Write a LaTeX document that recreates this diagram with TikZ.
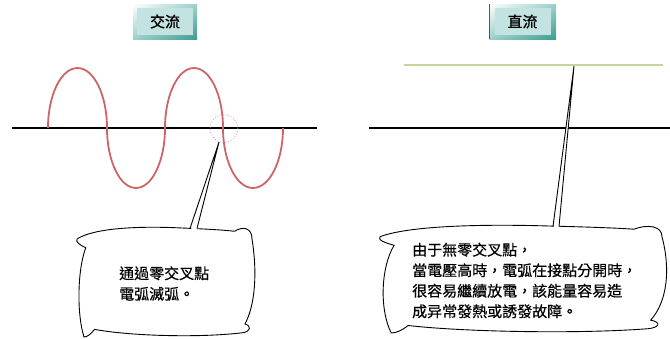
\documentclass[tikz,border=0pt]{standalone}
\usepackage{fontspec}
\newfontfamily\cjk[FakeBold=0.4]{Noto Sans CJK TC}
\newfontfamily\cjktitle[FakeBold=1.2]{Noto Sans CJK TC}
\usetikzlibrary{shadings,calc}
\definecolor{wavered}{HTML}{CC6666}
\definecolor{dcgreen}{HTML}{C4D79B}
\definecolor{facelite}{HTML}{C2E3E1}
\definecolor{edgedark}{HTML}{3E9C90}
\definecolor{edgemid}{HTML}{9ED0CA}
\definecolor{ringcol}{HTML}{CC99CC}
\tikzset{
  axisline/.style={line width=2pt, black},
  waveline/.style={line width=1.8pt, wavered},
  titleface/.style={fill=facelite, inner sep=0pt, minimum width=56pt, minimum height=27pt, font=\cjktitle\fontsize{15}{15}\selectfont},
  titleedge/.style={upper left=white, upper right=edgemid, lower left=edgemid, lower right=edgedark},
  bodytext/.style={anchor=west, align=left, inner sep=0pt, font=\cjk\fontsize{15}{20.5}\selectfont},
  bubbleline/.style={draw=black, fill=white, line width=0.9pt},
}
\newcommand{\bubblepath}{%
  (0,0.1) .. controls (0.1,0.0) and (0.35,-0.02) .. (0.6,0.0)
  .. controls (0.75,0.01) and (0.85,0.02) .. (0.9,0.03)
  .. controls (0.95,-0.02) and (1.0,0.0) .. (1.0,0.1)
  .. controls (1.03,0.4) and (1.02,0.7) .. (0.96,0.88)
  .. controls (1.0,0.9) and (0.99,0.95) .. (0.95,0.96)
  .. controls (0.7,1.01) and (0.3,0.99) .. (0.1,0.93)
  .. controls (0.08,0.97) and (0.06,1.0) .. (0.04,1.0)
  .. controls (0.0,0.8) and (0.0,0.4) .. (0.05,0.18)
  .. controls (0.02,0.16) and (-0.01,0.13) .. (0,0.1) -- cycle}
\begin{document}
\begin{tikzpicture}[x=1pt,y=-1pt]
\useasboundingbox (0,0) rectangle (670,338);
% title boxes
\shade[titleedge] (133,4) rectangle (197,39);
\node[titleface] (ac) at (165,21.5) {交流};
\shade[titleedge] (489,4) rectangle (556,39);
\draw[gray!70!black, line width=1pt] (489.5,4) -- (489.5,39);
\node[titleface] (dc) at (522.5,21.5) {直流};
% left: AC
\draw[axisline] (12,128) -- (317,128);
\draw[waveline] (48,128) .. controls (48,94.9) and (61.2,68) .. (77.5,68)
  .. controls (93.8,68) and (107,94.9) .. (107,128)
  .. controls (107,161.1) and (120,188) .. (136,188)
  .. controls (152,188) and (165,161.1) .. (165,128)
  .. controls (165,94.9) and (178,68) .. (194,68)
  .. controls (210,68) and (223,94.9) .. (223,128)
  .. controls (223,161.1) and (236.4,188) .. (253,188)
  .. controls (269.6,188) and (283,161.1) .. (283,128);
\node[circle, draw=ringcol, dotted, line width=0.8pt, minimum size=28pt, inner sep=0pt] (ring) at (224,128.5) {};
\coordinate (tipL) at (219,142);
\begin{scope}[shift={(77,228)}, xscale=175, yscale=109]
  \path[bubbleline] \bubblepath;
\end{scope}
\coordinate (baseLa) at (190,228.5);
\coordinate (baseLb) at (197,228.5);
\fill[white] ($(baseLa)+(0.4,3)$) -- (tipL) -- ($(baseLb)+(-0.4,3)$) -- cycle;
\draw[line width=0.9pt, line join=miter] (baseLa) -- (tipL) -- (baseLb);
\node[bodytext] (txtL) at (119,283.5) {通過零交叉點\\電弧滅弧。};
% right: DC
\draw[axisline] (369,128) -- (670,128);
\draw[line width=2pt, dcgreen] (404,65) -- (663,65);
\coordinate (tipR) at (574,66);
\begin{scope}[shift={(380,226)}, xscale=282, yscale=107]
  \path[bubbleline] \bubblepath;
\end{scope}
\coordinate (baseRa) at (553,226.5);
\coordinate (baseRb) at (559,226.5);
\fill[white] ($(baseRa)+(0.4,3)$) -- (tipR) -- ($(baseRb)+(-0.4,3)$) -- cycle;
\draw[line width=0.9pt, line join=miter] (baseRa) -- (tipR) -- (baseRb);
\node[bodytext] (txtR) at (412,280.5) {由于無零交叉點，\\當電壓高時，電弧在接點分開時，\\很容易繼續放電，該能量容易造\\成异常發熱或誘發故障。};
\end{tikzpicture}
\end{document}
